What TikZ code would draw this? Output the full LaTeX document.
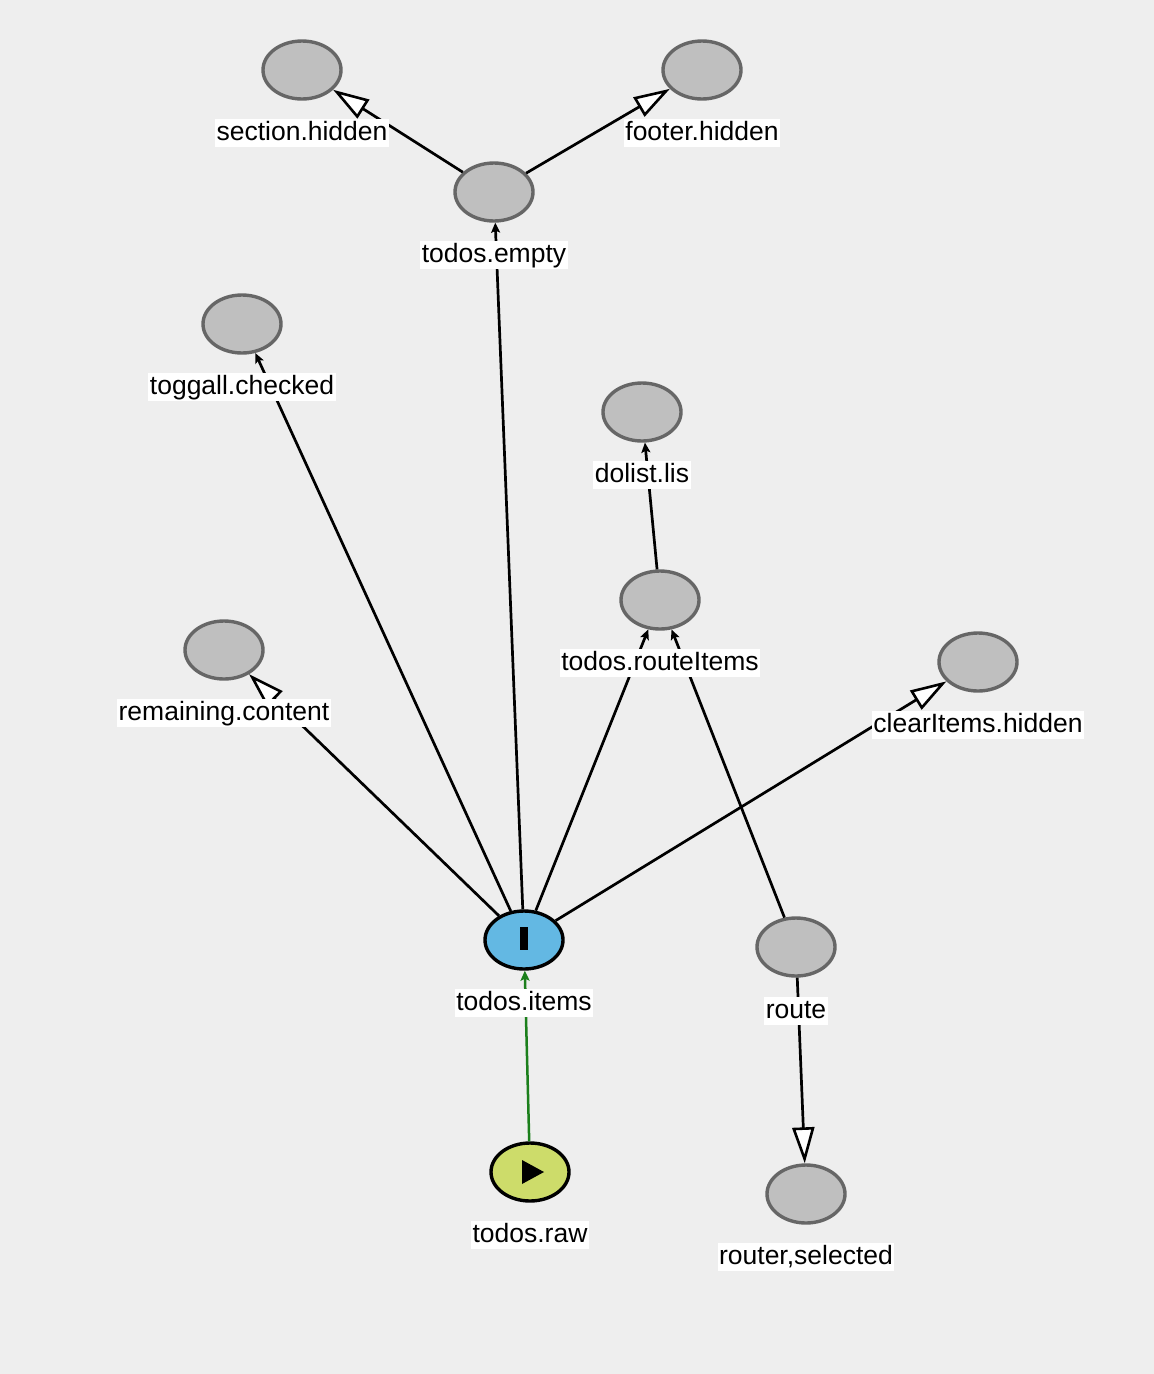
\documentclass[tikz,border=0pt]{standalone}
\usepackage{fontspec}
\setmainfont{Liberation Sans}
\usetikzlibrary{arrows.meta,shapes.geometric}
\definecolor{bgc}{HTML}{EEEEEE}
\definecolor{nodefill}{HTML}{BFBFBF}
\definecolor{nodeline}{HTML}{666666}
\definecolor{bluefill}{HTML}{63B8E3}
\definecolor{greenfill}{HTML}{CDDC6A}
\definecolor{greenline}{HTML}{1B7F1B}
\tikzset{
  gnode/.style={ellipse, draw=nodeline, fill=nodefill, line width=3.4pt, minimum width=78pt, minimum height=58pt, inner sep=0pt},
  bnode/.style={ellipse, draw=black, fill=bluefill, line width=3.4pt, minimum width=78pt, minimum height=58pt, inner sep=0pt},
  grnode/.style={ellipse, draw=black, fill=greenfill, line width=3.4pt, minimum width=78pt, minimum height=58pt, inner sep=0pt},
  lbl/.style={fill=white, text=black, font=\fontsize{26.5}{29}\selectfont, inner xsep=1.5pt, inner ysep=1pt, text height=20pt, text depth=6pt},
  edge/.style={draw=black, line width=2.7pt},
  sm/.style={edge, -{Stealth[length=10pt,width=9pt,inset=2pt]}},
  hol/.style={edge, -{Triangle[fill=white,length=36pt,width=22pt,line width=2.6pt]}},
  grn/.style={draw=greenline, line width=2.5pt, -{Stealth[length=10pt,width=9pt,inset=2pt]}}
}
\begin{document}
\begin{tikzpicture}[x=1pt,y=-1pt]
\fill[bgc] (0,0) rectangle (1154,1374);
\useasboundingbox (0,0) rectangle (1154,1374);
% nodes
\node[gnode] (section) at (302,70) {};
\node[gnode] (footer) at (702,70) {};
\node[gnode] (empty) at (494,192) {};
\node[gnode] (toggall) at (242,324) {};
\node[gnode] (dolist) at (642,412) {};
\node[gnode] (routeitems) at (660,600) {};
\node[gnode] (remaining) at (224,650) {};
\node[gnode] (clear) at (978,662) {};
\node[bnode] (items) at (524,940) {};
\node[gnode] (route) at (796,947) {};
\node[grnode] (raw) at (530,1172) {};
\node[gnode] (router) at (806,1194) {};
% icons
\fill[black] (520,927) rectangle (528,950);
\fill[black] (522,1160) -- (544,1172) -- (522,1184) -- cycle;
% edges
\draw[hol] (empty) -- (section);
\draw[hol] (empty) -- (footer);
\draw[sm] (items) -- (empty);
\draw[sm] (items) -- (toggall);
\draw[hol] (items) -- (remaining);
\draw[sm] (items) -- (routeitems);
\draw[hol] (items) -- (clear);
\draw[sm] (routeitems) -- (dolist);
\draw[sm] (route) -- (routeitems);
\draw[hol] (route) -- (router);
\draw[grn] (raw) -- (items);
% labels
\node[lbl] (lsection) at (302,133) {section.hidden};
\node[lbl] (lfooter) at (702,133) {footer.hidden};
\node[lbl] (lempty) at (494,255) {todos.empty};
\node[lbl] (ltoggall) at (242,387) {toggall.checked};
\node[lbl] (ldolist) at (642,475) {dolist.lis};
\node[lbl] (lrouteitems) at (660,663) {todos.routeItems};
\node[lbl] (lremaining) at (224,713) {remaining.content};
\node[lbl] (lclear) at (978,725) {clearItems.hidden};
\node[lbl] (litems) at (524,1003) {todos.items};
\node[lbl] (lroute) at (796,1011) {route};
\node[lbl] (lraw) at (530,1235) {todos.raw};
\node[lbl] (lrouter) at (806,1257) {router,selected};
\end{tikzpicture}
\end{document}
